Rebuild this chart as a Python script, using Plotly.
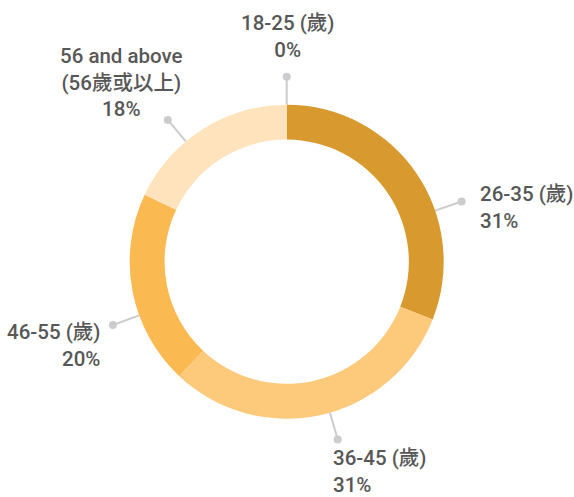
import math
import plotly.graph_objects as go

# ---- data ----
categories = ["18-25 (歲)", "26-35 (歲)", "36-45 (歲)", "46-55 (歲)", "56 and above<br>(56歲或以上)"]
values = [0, 31, 31, 20, 18]
pct_labels = ["0%", "31%", "31%", "20%", "18%"]

# ---- styles / layout ----
colors = ["#C8861E", "#D8992F", "#FDC97B", "#FBB951", "#FFE3BD"]
W, H = 574, 497
CX, CY = 286.7, 261.7          # pie centre in px
R_OUT = 157                     # outer radius in px
HOLE = 0.778
R_DOT = 185                     # connector end radius
LABEL_ANGLES = [0, 71, 164, 250, 320]   # connector angles (deg clockwise from top)
TEXT_POS = [                    # x, y, xanchor, align
    (287, 36.5, "center", "center"),
    (479, 207.5, "left", "left"),
    (332, 471, "left", "left"),
    (101, 345.5, "right", "right"),
    (121, 82, "center", "center"),
]
FONT = "Roboto, 'Noto Sans CJK TC', sans-serif"
TEXT_COLOR = "#575757"
LINE_COLOR = "#CCCCCF"

fig = go.Figure()

# hidden pixel-space axes for connectors
for ang in LABEL_ANGLES:
    a = math.radians(ang)
    xs = [CX + R_OUT * math.sin(a), CX + R_DOT * math.sin(a)]
    ys = [CY - R_OUT * math.cos(a), CY - R_DOT * math.cos(a)]
    fig.add_trace(go.Scatter(x=xs, y=ys, mode="lines", line=dict(color=LINE_COLOR, width=2),
                             hoverinfo="skip", showlegend=False))
    fig.add_trace(go.Scatter(x=[xs[1]], y=[ys[1]], mode="markers",
                             marker=dict(color=LINE_COLOR, size=8), hoverinfo="skip", showlegend=False))

fig.add_trace(go.Pie(
    labels=categories, values=values, hole=HOLE, sort=False, direction="clockwise", rotation=0,
    marker=dict(colors=colors, line=dict(width=0)), textinfo="none", showlegend=False,
    domain=dict(x=[(CX - R_OUT) / W, (CX + R_OUT) / W], y=[1 - (CY + R_OUT) / H, 1 - (CY - R_OUT) / H]),
))

for cat, pct, (tx, ty, xa, al) in zip(categories, pct_labels, TEXT_POS):
    fig.add_annotation(x=tx, y=ty, xref="x", yref="y", text=f"{cat}<br>{pct}", showarrow=False,
                       xanchor=xa, yanchor="middle", align=al, borderpad=0,
                       font=dict(family=FONT, size=20.5, weight=500, color=TEXT_COLOR))

fig.update_layout(
    width=W, height=H, margin=dict(l=0, r=0, t=0, b=0),
    paper_bgcolor="white", plot_bgcolor="white",
    xaxis=dict(range=[0, W], visible=False, fixedrange=True),
    yaxis=dict(range=[H, 0], visible=False, fixedrange=True),
)

fig.write_html("out.html", config={"displayModeBar": False},
               post_script="document.body.style.margin='0';")
